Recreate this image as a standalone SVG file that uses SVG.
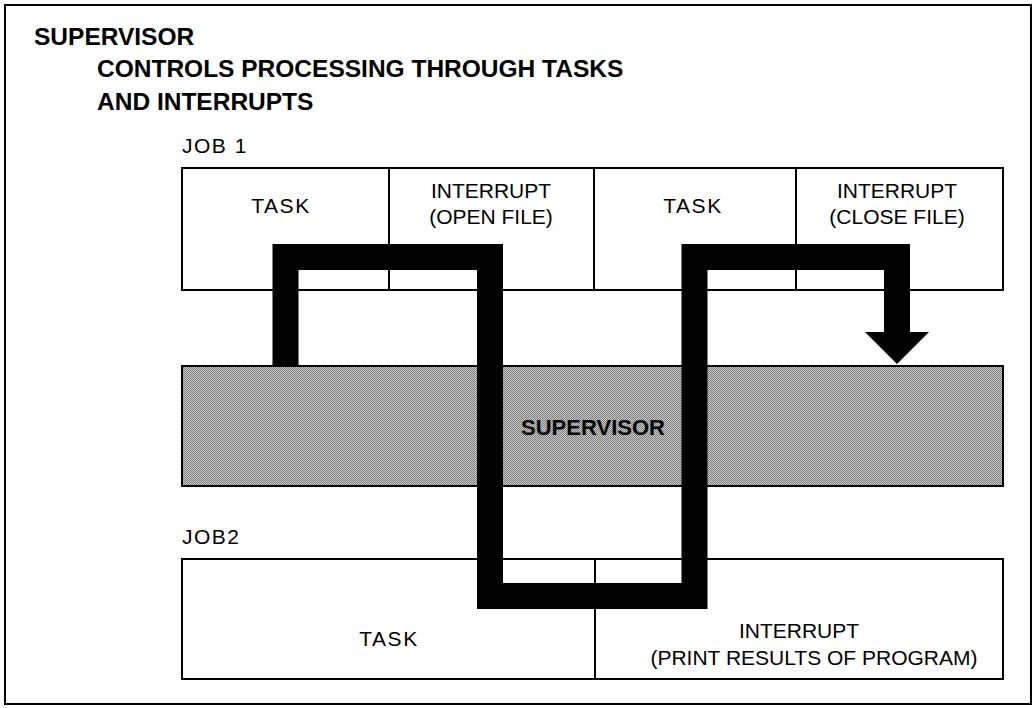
<svg xmlns="http://www.w3.org/2000/svg" width="1034" height="708" viewBox="0 0 1034 708">
<defs>
<pattern id="stipple" width="2" height="2" patternUnits="userSpaceOnUse">
<rect width="2" height="2" fill="#cbcbcb"/>
<rect x="0" y="0" width="1" height="1" fill="#7c7c7c"/>
<rect x="1" y="1" width="1" height="1" fill="#7c7c7c"/>
</pattern>
</defs>
<style>
.box{fill:#fff;stroke:#000;stroke-width:2}
.band{fill:url(#stipple);stroke:#000;stroke-width:2}
.t{font-family:"Liberation Sans",Arial,sans-serif;font-size:21px;fill:#000;text-anchor:middle}
.l{font-family:"Liberation Sans",Arial,sans-serif;font-size:21px;fill:#000;letter-spacing:1.5px}
.h{font-family:"Liberation Sans",Arial,sans-serif;font-size:24.5px;font-weight:bold;fill:#000}
.flow{fill:none;stroke:#000;stroke-width:26;stroke-linejoin:miter;stroke-linecap:butt}
</style>
<rect x="5" y="5" width="1026" height="699" fill="#fff" stroke="#000" stroke-width="2"/>
<g id="title">
<text class="h" x="34" y="45">SUPERVISOR</text>
<text class="h" x="97" y="77">CONTROLS PROCESSING THROUGH TASKS</text>
<text class="h" x="97" y="110">AND INTERRUPTS</text>
</g>
<g id="job1">
<text class="l" x="182" y="153">JOB 1</text>
<g id="job1-task1"><rect class="box" x="182" y="168" width="207" height="122"/><text class="t" x="281" y="213" style="letter-spacing:1.5px">TASK</text></g>
<g id="job1-int1"><rect class="box" x="389" y="168" width="205" height="122"/><text class="t" x="491" y="198">INTERRUPT</text><text class="t" x="491" y="224">(OPEN FILE)</text></g>
<g id="job1-task2"><rect class="box" x="594" y="168" width="202" height="122"/><text class="t" x="693" y="213" style="letter-spacing:1.5px">TASK</text></g>
<g id="job1-int2"><rect class="box" x="796" y="168" width="207" height="122"/><text class="t" x="897" y="198">INTERRUPT</text><text class="t" x="897" y="224">(CLOSE FILE)</text></g>
</g>
<g id="supervisor">
<rect class="band" x="182" y="366" width="821" height="120"/>
<text class="t" x="593" y="435" style="font-weight:bold;font-size:22px">SUPERVISOR</text>
</g>
<g id="job2">
<text class="l" x="182" y="544">JOB2</text>
<g id="job2-task"><rect class="box" x="182" y="559" width="413" height="120"/><text class="t" x="389" y="646" style="letter-spacing:1.5px">TASK</text></g>
<g id="job2-int"><rect class="box" x="595" y="559" width="408" height="120"/><text class="t" x="799" y="638">INTERRUPT</text><text class="t" x="814" y="665">(PRINT RESULTS OF PROGRAM)</text></g>
</g>
<g id="connectors">
<path class="flow" d="M285.5 366 V257 H490 V596 H694.5 V257 H897 V333"/>
<polygon points="865,332 929,332 897,364" fill="#000"/>
</g>
</svg>
